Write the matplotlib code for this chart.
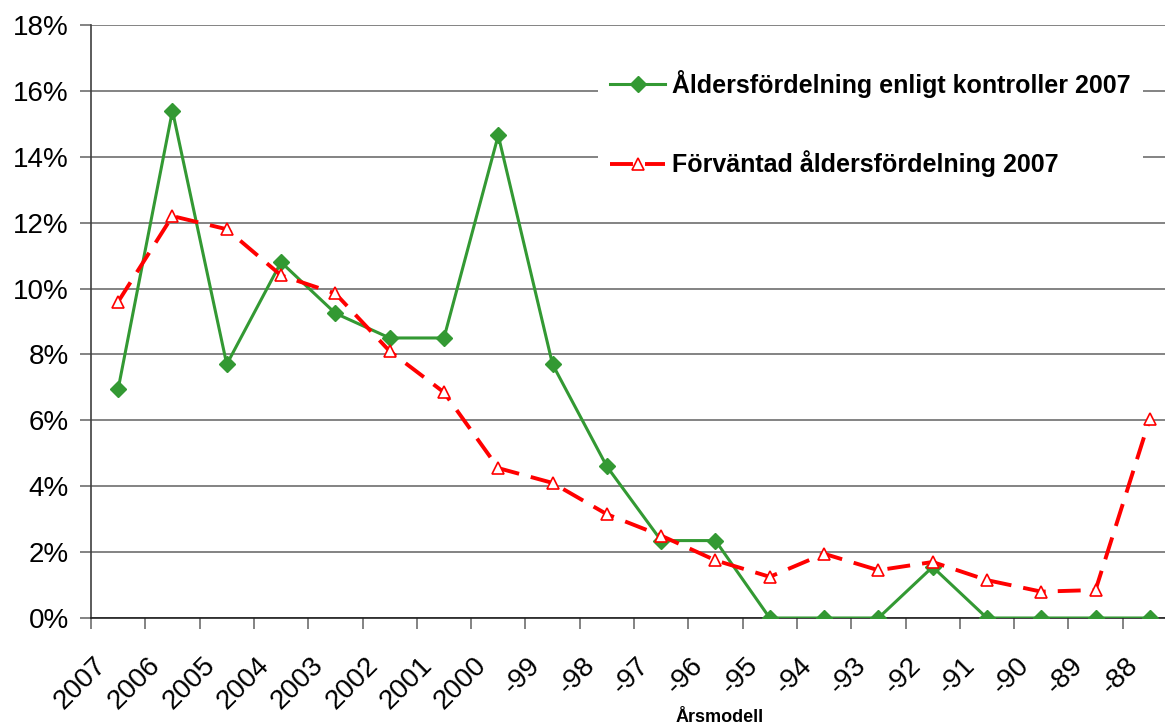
import matplotlib.pyplot as plt
import numpy as np
from matplotlib.ticker import FuncFormatter
from matplotlib.transforms import ScaledTranslation

plt.rcParams['font.family'] = ['Liberation Sans', 'DejaVu Sans']

# data (percent)
years = ['2007', '2006', '2005', '2004', '2003', '2002', '2001', '2000',
         '-99', '-98', '-97', '-96', '-95', '-94', '-93', '-92', '-91',
         '-90', '-89', '-88']
kontroller = [6.95, 15.4, 7.7, 10.8, 9.25, 8.5, 8.5, 14.65, 7.7, 4.6,
              2.35, 2.35, 0.0, 0.0, 0.0, 1.55, 0.0, 0.0, 0.0, 0.0]
forvantad = [9.6, 12.2, 11.8, 10.4, 9.85, 8.1, 6.85, 4.55, 4.1, 3.15,
             2.5, 1.75, 1.25, 1.95, 1.45, 1.7, 1.15, 0.8, 0.85, 6.05]

label_kontroller = 'Åldersfördelning enligt kontroller 2007'
label_forvantad = 'Förväntad åldersfördelning 2007'

W, H = 1165, 727
fig = plt.figure(figsize=(W / 100, H / 100), dpi=100)
# plot area runs past the right edge of the picture, like the original
left, right, top, bottom = 91, 1177, 25, 618
ax = fig.add_axes([left / W, 1 - bottom / H, (right - left) / W, (bottom - top) / H])

x = np.arange(len(years))
ax.plot(x, kontroller, color='#339933', lw=2.2, marker='D', ms=8.5,
        label=label_kontroller, zorder=3)
ax.plot(x, forvantad, color='#ff0000', lw=2.8, dashes=(5.9, 3.1),
        marker='^', ms=9, mfc='white', mec='#ff0000', mew=1.2,
        label=label_forvantad, zorder=4)

ax.set_xlim(-0.5, len(years) - 0.5)
ax.set_ylim(0, 18)
ax.set_yticks(np.arange(0, 19, 2))
ax.yaxis.set_major_formatter(FuncFormatter(lambda v, p: f'{v:.0f}%'))
ax.grid(axis='y', color='#6e6e6e', lw=1.2)
ax.set_axisbelow(True)

# category labels at centres, tick marks at boundaries
ax.set_xticks(x)
ax.set_xticklabels(years, rotation=45, ha='right', rotation_mode='anchor')
ax.set_xticks(np.arange(-0.5, len(years)), minor=True)
ax.tick_params(axis='x', which='major', length=0, pad=22, labelsize=20)
ax.tick_params(axis='x', which='minor', length=8, width=1.2, color='#6e6e6e')
ax.tick_params(axis='y', length=8, width=1.2, color='#6e6e6e', labelsize=20, pad=8)
shift = ScaledTranslation(-25 / 100, -4 / 100, fig.dpi_scale_trans)
for lab in ax.get_xticklabels():
    lab.set_transform(lab.get_transform() + shift)

for s in ['top', 'right']:
    ax.spines[s].set_visible(False)
ax.spines['left'].set_color('#404040')
ax.spines['bottom'].set_color('#202020')
ax.spines['left'].set_linewidth(1.2)
ax.spines['bottom'].set_linewidth(1.2)

ax.set_xlabel('Årsmodell', fontsize=13, fontweight='bold', labelpad=0, va='center')
ax.xaxis.set_label_coords((720 - left) / (right - left), -(717 - bottom) / (bottom - top))

leg = ax.legend(loc='upper left', bbox_to_anchor=(598 / W, 1 - 58 / H),
                bbox_transform=fig.transFigure, borderaxespad=0, frameon=True,
                fancybox=False, framealpha=1, facecolor='white', edgecolor='none',
                prop={'size': 18, 'weight': 'bold'}, handlelength=2.2,
                handletextpad=0.28, borderpad=0.48, labelspacing=2.1)

fig.savefig('out.png', dpi=100)
